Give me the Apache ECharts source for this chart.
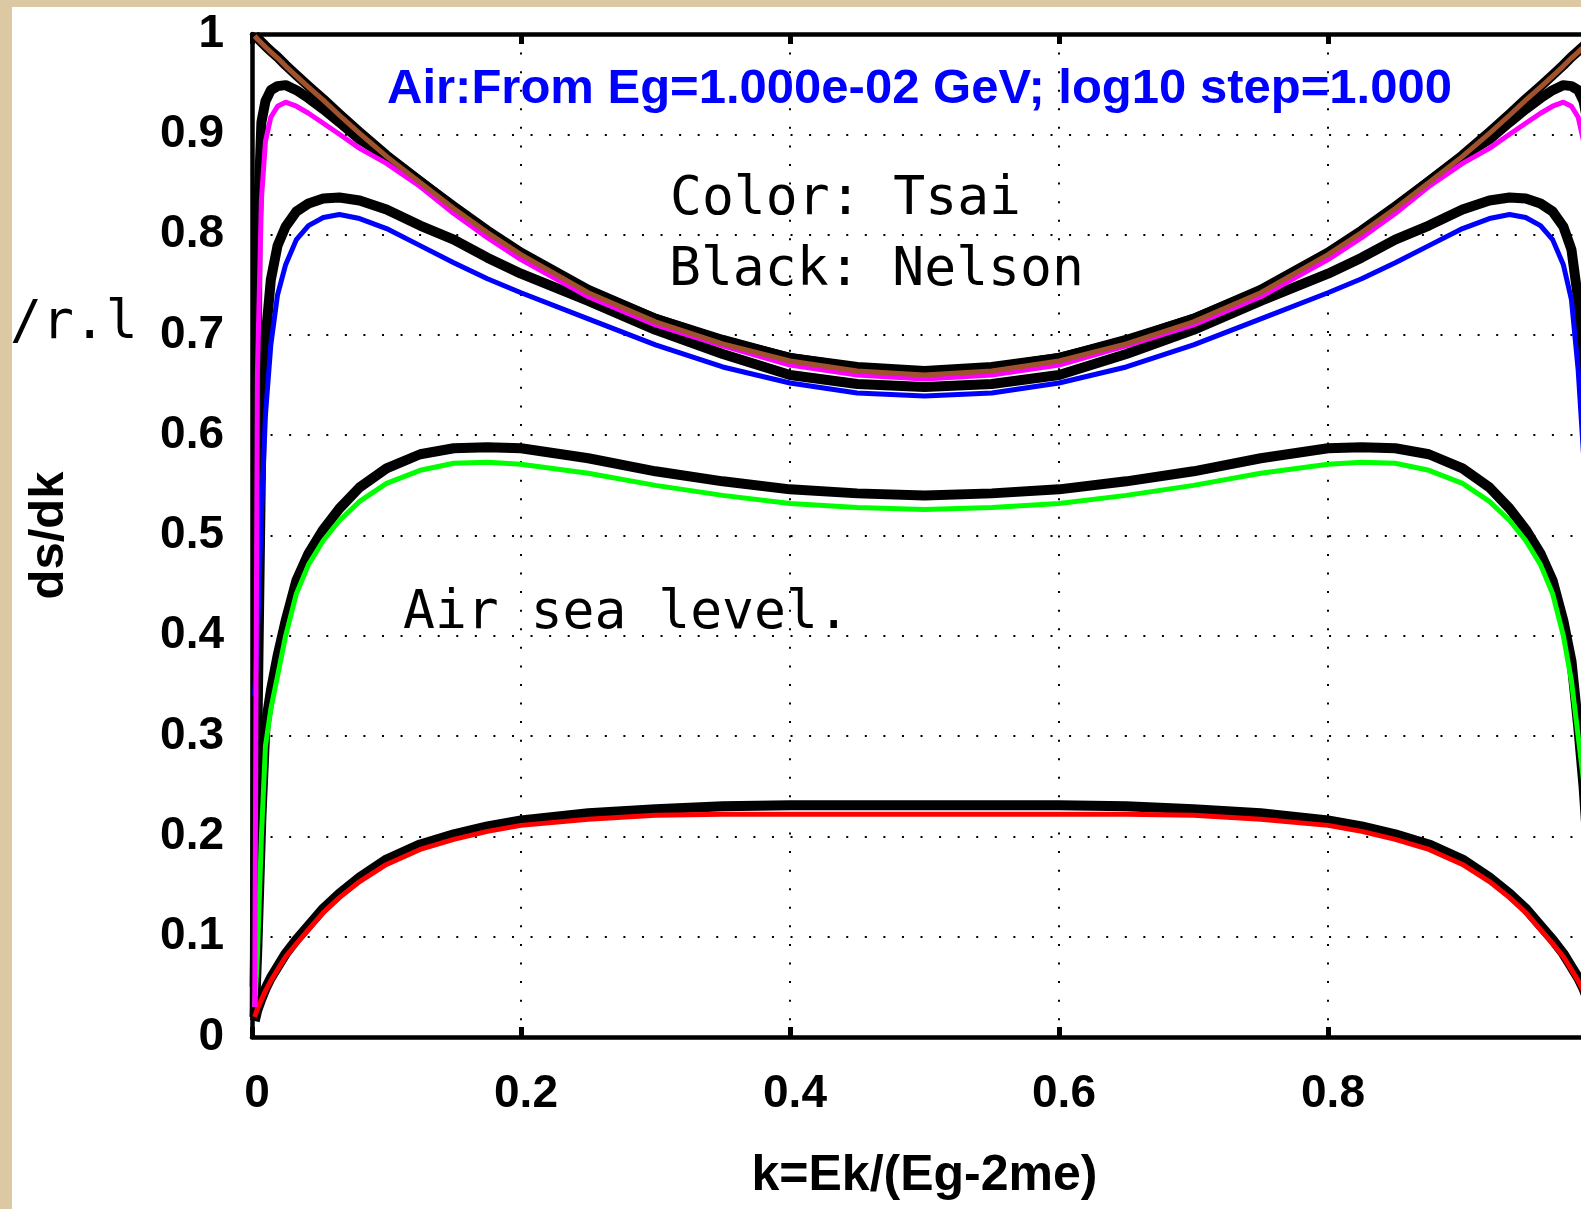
<!DOCTYPE html>
<html>
<head>
<meta charset="utf-8">
<script src="https://cdn.jsdelivr.net/npm/echarts@6/dist/echarts.min.js"></script>
<style>
  html, body { margin: 0; padding: 0; width: 1581px; height: 1209px; overflow: hidden; background: #dcc9a4; }
  #paper { position: absolute; left: 12px; top: 7px; right: 0; bottom: 0; background: #ffffff; }
  #chart { position: absolute; left: 0; top: 0; width: 1581px; height: 1209px; }
</style>
</head>
<body>
<div id="paper"></div>
<div id="chart"></div>
<script>
// Pair-creation spectrum ds/dk in air at sea level, Tsai (colour) vs Nelson (black),
// for photon energies 0.01, 0.1, 1, 10, 100 GeV.

const kValues = [0.002, 0.004, 0.007, 0.010, 0.014, 0.019, 0.025, 0.033, 0.042, 0.053, 0.065, 0.08, 0.1,
  0.125, 0.15, 0.175, 0.2, 0.25, 0.3, 0.35, 0.4, 0.45, 0.5, 0.55, 0.6, 0.65, 0.7, 0.75, 0.8, 0.825,
  0.85, 0.875, 0.9, 0.92, 0.935, 0.947, 0.958, 0.967, 0.975, 0.981, 0.986, 0.99, 0.993, 0.996, 0.998];

// Tsai
const tsai10MeV = [0.020, 0.028, 0.037, 0.046, 0.056, 0.067, 0.080, 0.093, 0.107, 0.124, 0.139, 0.155, 0.172,
  0.187, 0.197, 0.205, 0.211, 0.217, 0.221, 0.222, 0.222, 0.222, 0.222, 0.222, 0.222, 0.222, 0.221, 0.217, 0.211, 0.205,
  0.197, 0.187, 0.172, 0.155, 0.139, 0.124, 0.107, 0.093, 0.080, 0.067, 0.056, 0.046, 0.037, 0.028, 0.020];
const tsai100MeV = [0.030, 0.080, 0.200, 0.290, 0.327, 0.360, 0.400, 0.442, 0.471, 0.495, 0.515, 0.534, 0.552,
  0.565, 0.572, 0.573, 0.571, 0.562, 0.550, 0.540, 0.532, 0.528, 0.526, 0.528, 0.532, 0.540, 0.550, 0.562, 0.571, 0.573,
  0.572, 0.565, 0.552, 0.534, 0.515, 0.495, 0.471, 0.442, 0.400, 0.355, 0.300, 0.255, 0.190, 0.080, 0.030];
const tsai1GeV = [0.340, 0.400, 0.520, 0.620, 0.690, 0.740, 0.770, 0.795, 0.809, 0.817, 0.820, 0.816, 0.806,
  0.789, 0.772, 0.756, 0.742, 0.716, 0.690, 0.668, 0.652, 0.642, 0.639, 0.642, 0.652, 0.668, 0.690, 0.716, 0.742, 0.756,
  0.772, 0.789, 0.806, 0.816, 0.820, 0.817, 0.809, 0.795, 0.770, 0.735, 0.665, 0.580, 0.500, 0.400, 0.340];
const tsai10GeV = [0.030, 0.660, 0.835, 0.893, 0.917, 0.928, 0.932, 0.928, 0.921, 0.911, 0.900, 0.886, 0.871,
  0.848, 0.821, 0.797, 0.775, 0.738, 0.710, 0.689, 0.670, 0.660, 0.656, 0.660, 0.670, 0.689, 0.710, 0.738, 0.775, 0.797,
  0.821, 0.848, 0.871, 0.886, 0.900, 0.911, 0.921, 0.928, 0.932, 0.928, 0.917, 0.893, 0.835, 0.660, 0.030];
const tsai100GeV = [0.998, 0.995, 0.991, 0.987, 0.982, 0.976, 0.968, 0.958, 0.947, 0.934, 0.919, 0.901, 0.878,
  0.852, 0.826, 0.802, 0.780, 0.742, 0.713, 0.691, 0.674, 0.664, 0.660, 0.664, 0.674, 0.691, 0.713, 0.742, 0.780, 0.802,
  0.826, 0.852, 0.878, 0.901, 0.919, 0.934, 0.947, 0.958, 0.968, 0.976, 0.982, 0.987, 0.991, 0.995, 0.998];

// Nelson
const nelson10MeV = [0.016, 0.027, 0.038, 0.048, 0.059, 0.070, 0.083, 0.097, 0.111, 0.128, 0.143, 0.159, 0.177,
  0.192, 0.202, 0.210, 0.216, 0.223, 0.227, 0.230, 0.231, 0.231, 0.231, 0.231, 0.231, 0.230, 0.227, 0.223, 0.216, 0.210,
  0.202, 0.192, 0.177, 0.159, 0.143, 0.128, 0.111, 0.097, 0.083, 0.070, 0.059, 0.048, 0.038, 0.027, 0.016];
const nelson100MeV = [0.020, 0.090, 0.220, 0.310, 0.345, 0.380, 0.415, 0.455, 0.482, 0.506, 0.527, 0.548, 0.567,
  0.581, 0.587, 0.588, 0.587, 0.577, 0.564, 0.554, 0.546, 0.542, 0.540, 0.542, 0.546, 0.554, 0.564, 0.577, 0.587, 0.588,
  0.587, 0.581, 0.567, 0.548, 0.527, 0.506, 0.482, 0.455, 0.415, 0.375, 0.310, 0.250, 0.190, 0.090, 0.020];
const nelson1GeV = [0.050, 0.300, 0.600, 0.695, 0.755, 0.789, 0.808, 0.823, 0.831, 0.836, 0.837, 0.834, 0.825,
  0.809, 0.795, 0.777, 0.761, 0.734, 0.705, 0.681, 0.660, 0.651, 0.648, 0.651, 0.660, 0.681, 0.705, 0.734, 0.761, 0.777,
  0.795, 0.809, 0.825, 0.834, 0.837, 0.836, 0.831, 0.823, 0.808, 0.785, 0.735, 0.650, 0.560, 0.300, 0.050];
const nelson10GeV = [0.020, 0.800, 0.912, 0.933, 0.944, 0.948, 0.949, 0.944, 0.936, 0.925, 0.912, 0.895, 0.878,
  0.853, 0.827, 0.803, 0.781, 0.744, 0.716, 0.695, 0.677, 0.668, 0.664, 0.668, 0.677, 0.695, 0.716, 0.744, 0.781, 0.803,
  0.827, 0.853, 0.878, 0.895, 0.912, 0.925, 0.936, 0.944, 0.949, 0.948, 0.944, 0.933, 0.912, 0.800, 0.020];
const nelson100GeV = [0.999, 0.996, 0.992, 0.988, 0.983, 0.977, 0.969, 0.959, 0.948, 0.935, 0.920, 0.902, 0.879,
  0.853, 0.828, 0.804, 0.782, 0.745, 0.716, 0.694, 0.677, 0.667, 0.663, 0.667, 0.677, 0.694, 0.716, 0.745, 0.782, 0.804,
  0.828, 0.853, 0.879, 0.902, 0.920, 0.935, 0.948, 0.959, 0.969, 0.977, 0.983, 0.988, 0.992, 0.996, 0.999];

const xTickLabels = ['0', '0.2', '0.4', '0.6', '0.8', '1'];
const yTickLabels = ['0', '0.1', '0.2', '0.3', '0.4', '0.5', '0.6', '0.7', '0.8', '0.9', '1'];

const titleText = 'Air:From Eg=1.000e-02 GeV; log10 step=1.000';
const legendLine1 = 'Color: Tsai';
const legendLine2 = 'Black: Nelson';
const mediumText = 'Air sea level.';
const unitText = '/r.l';
const xName = 'k=Ek/(Eg-2me)';
const yName = 'ds/dk';

const SANS = '"Liberation Sans", Arial, Helvetica, sans-serif';
const MONO = '"DejaVu Sans Mono", monospace';

function curve(name, values, color, width) {
  return {
    type: 'line',
    name: name,
    data: kValues.map((k, i) => [k, values[i]]),
    symbol: 'none',
    showSymbol: false,
    silent: true,
    clip: true,
    lineStyle: { color: color, width: width, cap: 'butt', join: 'round' },
    itemStyle: { color: color }
  };
}

const NELSON_W = 10;
const TSAI_W = 5;

const dotted = { color: '#000', width: 2, type: [2, 16.57] };

const option = {
  animation: false,
  backgroundColor: 'transparent',
  grid: { left: 252, top: 34, width: 1345, height: 1003, containLabel: false, outerBoundsMode: 'none', show: false },
  xAxis: [
    {
      type: 'value', position: 'bottom', min: 0, max: 1, interval: 0.2,
      axisLine: { show: true, onZero: false, lineStyle: { color: '#000', width: 4.5 } },
      axisTick: { show: true, inside: true, length: 10, lineStyle: { color: '#000', width: 5 } },
      axisLabel: {
        show: true, margin: 34, padding: [0, 0, 0, 10],
        color: '#000', fontFamily: SANS, fontWeight: 'bold', fontSize: 46,
        formatter: v => xTickLabels[Math.round(v / 0.2)]
      },
      splitLine: { show: true, lineStyle: dotted },
      name: xName, nameLocation: 'middle', nameGap: 114,
      nameTextStyle: { color: '#000', fontFamily: SANS, fontWeight: 'bold', fontSize: 50 }
    },
    {
      type: 'value', position: 'top', min: 0, max: 1, interval: 0.2,
      axisLine: { show: true, onZero: false, lineStyle: { color: '#000', width: 4.5 } },
      axisTick: { show: true, inside: true, length: 10, lineStyle: { color: '#000', width: 5 } },
      axisLabel: { show: false },
      splitLine: { show: false }
    }
  ],
  yAxis: {
    type: 'value', min: 0, max: 1, interval: 0.1,
    axisLine: { show: true, onZero: false, lineStyle: { color: '#000', width: 4.5 } },
    axisTick: { show: false },
    axisLabel: {
      show: true, margin: 28,
      color: '#000', fontFamily: SANS, fontWeight: 'bold', fontSize: 46,
      formatter: v => yTickLabels[Math.round(v * 10)]
    },
    splitLine: { show: true, lineStyle: dotted },
    name: yName, nameLocation: 'middle', nameGap: 178, nameRotate: 90,
    nameTextStyle: { color: '#000', fontFamily: SANS, fontWeight: 'bold', fontSize: 49 }
  },
  series: [
    curve('Nelson 10 MeV', nelson10MeV, '#000', NELSON_W),
    curve('Nelson 100 MeV', nelson100MeV, '#000', NELSON_W),
    curve('Nelson 1 GeV', nelson1GeV, '#000', NELSON_W),
    curve('Nelson 10 GeV', nelson10GeV, '#000', NELSON_W),
    curve('Nelson 100 GeV', nelson100GeV, '#000', NELSON_W),
    curve('Tsai 10 MeV', tsai10MeV, '#ff0000', TSAI_W),
    curve('Tsai 100 MeV', tsai100MeV, '#00ff00', TSAI_W),
    curve('Tsai 1 GeV', tsai1GeV, '#0000ff', TSAI_W),
    curve('Tsai 10 GeV', tsai10GeV, '#ff00ff', TSAI_W),
    curve('Tsai 100 GeV', tsai100GeV, '#a0522d', TSAI_W)
  ],
  graphic: [
    { type: 'text', x: 387, y: 89, z: 100,
      style: { text: titleText, font: 'bold 49px ' + SANS, fill: '#0000ff', align: 'left', verticalAlign: 'middle' } },
    { type: 'text', x: 670, y: 200, z: 100,
      style: { text: legendLine1, font: '53px ' + MONO, fill: '#000', align: 'left', verticalAlign: 'middle' } },
    { type: 'text', x: 669, y: 271, z: 100,
      style: { text: legendLine2, font: '53px ' + MONO, fill: '#000', align: 'left', verticalAlign: 'middle' } },
    { type: 'text', x: 403, y: 614, z: 100,
      style: { text: mediumText, font: '53px ' + MONO, fill: '#000', align: 'left', verticalAlign: 'middle' } },
    { type: 'text', x: 10, y: 324, z: 100,
      style: { text: unitText, font: '53px ' + MONO, fill: '#000', align: 'left', verticalAlign: 'middle' } }
  ]
};

const chart = echarts.init(document.getElementById('chart'), null, { renderer: 'canvas', width: 1581, height: 1209 });
chart.setOption(option);
</script>
</body>
</html>
